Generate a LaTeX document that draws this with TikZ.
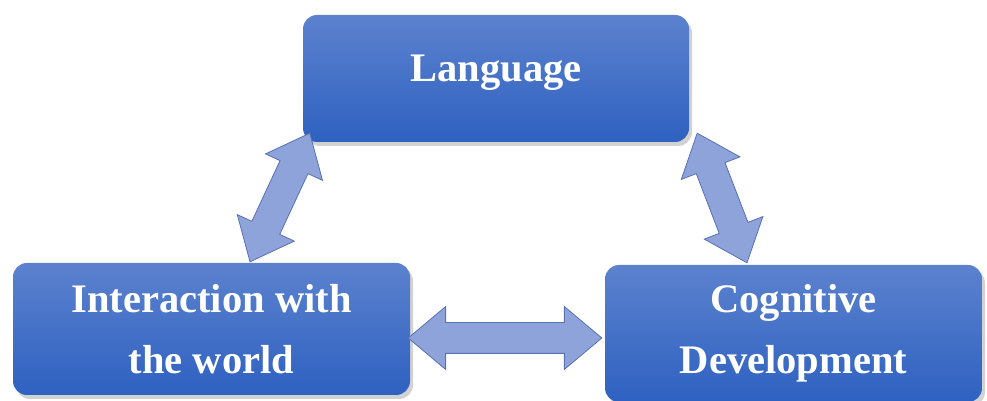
\documentclass[tikz,border=0pt]{standalone}
\usepackage{fontspec}
\setmainfont{Liberation Serif}
\usetikzlibrary{calc,shadows,shapes.arrows}

\definecolor{boxtop}{RGB}{92,130,206}
\definecolor{boxbot}{RGB}{46,97,193}
\definecolor{arrfill}{RGB}{142,163,218}
\definecolor{arrline}{RGB}{88,112,180}

\tikzset{
  bluebox/.style={rectangle, rounded corners=14pt, top color=boxtop, bottom color=boxbot,
    draw=none, text=white, align=center, inner sep=0pt,
    font=\fontsize{40.5}{61}\selectfont\bfseries,
    drop shadow={shadow xshift=3pt, shadow yshift=-4pt, opacity=0.25, fill=black!70}},
  biarrow/.style={double arrow, fill=arrfill, draw=arrline, line width=0.8pt,
    double arrow head extend=16pt, double arrow tip angle=80,
    inner xsep=0pt, inner ysep=15pt, outer sep=0pt}
}

\begin{document}
\begin{tikzpicture}[x=1pt,y=1pt]
  \useasboundingbox (0,0) rectangle (987,401);

  % I tre riquadri
  \node[bluebox, minimum width=386pt, minimum height=127pt, text depth=20pt] (lang) at (496,322.5) {Language};
  \node[bluebox, minimum width=397pt, minimum height=132pt] (inter) at (211.5,72) {Interaction with\\the world};
  \node[bluebox, minimum width=377pt, minimum height=137pt] (cog) at (793.5,67.5) {Cognitive\\Development};

  % Estremi delle frecce
  \coordinate (la) at ($(lang.south west)+(7,9)$);
  \coordinate (lb) at ($(inter.north)+(38.5,1)$);
  \coordinate (ra) at ($(lang.south east)+(8,9)$);
  \coordinate (rb) at ($(cog.north)+(-46.5,2)$);
  \coordinate (ha) at ($(inter.east)+(-2,-9)$);
  \coordinate (hb) at ($(cog.west)+(-3,-4.5)$);

  % Frecce doppie
  \foreach \a/\b/\nm in {la/lb/left, ra/rb/right, ha/hb/mid}
    \path let \p1=(\a), \p2=(\b), \n1={atan2(\y2-\y1,\x2-\x1)}, \n2={veclen(\x2-\x1,\y2-\y1)} in
      node[biarrow, minimum height=\n2, rotate=\n1] (arr-\nm) at ($(\a)!0.5!(\b)$) {};
\end{tikzpicture}
\end{document}
